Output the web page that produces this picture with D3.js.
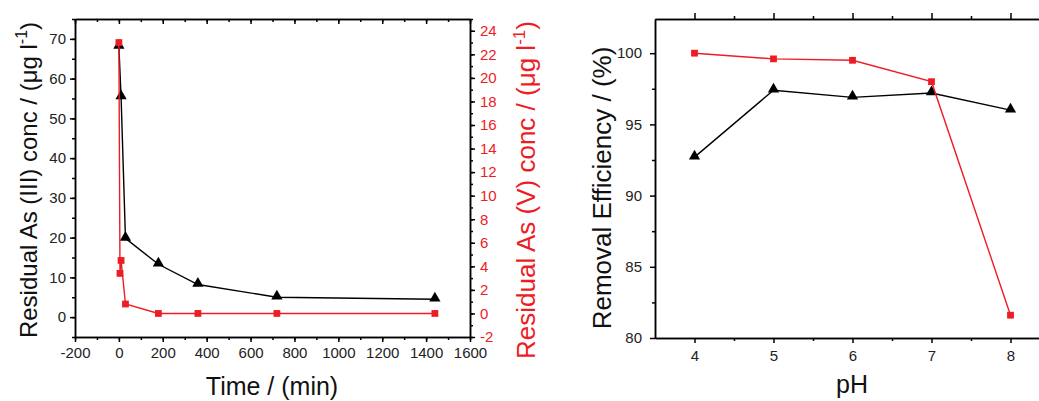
<!DOCTYPE html>
<html lang="en">
<head>
<meta charset="UTF-8">
<title>As removal</title>
<script src="https://d3js.org/d3.v7.min.js"></script>
<style>
  body { margin: 0; background: #fff; }
  text { font-family: "Liberation Sans", Arial, sans-serif; }
  .axis path, .axis line { stroke: #000; stroke-width: 1.5px; }
  .axis text { font-size: 15px; fill: #222; }
  .red text { fill: #ee1c24; }
</style>
</head>
<body>
<div id="chart"></div>
<script>

// time series (left panel)
var timeIII = [0, 10, 30, 180, 360, 720, 1440];
var asIII = [68.1, 55.4, 19.8, 13.3, 8.2, 5.0, 4.5];
var timeV = [0, 5, 10, 30, 180, 360, 720, 1440];
var asV = [23.0, 3.4, 4.5, 0.8, 0.0, 0.0, 0.0, 0.0];

// pH series (right panel)
var pH = [4, 5, 6, 7, 8];
var effIII = [92.7, 97.4, 96.9, 97.2, 96.0];
var effV = [100.0, 99.6, 99.5, 98.0, 81.6];

var red = "#ee1c24";
var plain = function(d) { return String(d); };

var svg = d3.select("#chart").append("svg")
    .attr("width", 1039)
    .attr("height", 401);

// ---------- left panel ----------
var x = d3.scaleLinear().domain([-200, 1600]).range([75, 470]);
var yL = d3.scaleLinear().domain([-5, 75]).range([337, 19]);
var yR = d3.scaleLinear().domain([-2, 25]).range([337, 19]);

// top (ticks inward)
svg.append("g").attr("class", "axis")
    .attr("transform", "translate(0,19)")
    .call(d3.axisTop(x).tickValues(d3.range(-200, 1601, 100)).tickSize(-3).tickFormat("").tickSizeOuter(0));
svg.append("g").attr("class", "axis")
    .attr("transform", "translate(0,19)")
    .call(d3.axisTop(x).tickValues(d3.range(-200, 1601, 200)).tickSize(-5).tickFormat("").tickSizeOuter(0));

svg.append("g").attr("class", "axis")
    .attr("transform", "translate(0,337)")
    .call(d3.axisBottom(x).tickValues(d3.range(-200, 1601, 100)).tickSize(3).tickFormat("").tickSizeOuter(0));
svg.append("g").attr("class", "axis")
    .attr("transform", "translate(0,337)")
    .call(d3.axisBottom(x).tickValues(d3.range(-200, 1601, 200)).tickSize(5).tickPadding(5).tickFormat(plain).tickSizeOuter(0));

svg.append("g").attr("class", "axis")
    .attr("transform", "translate(75,0)")
    .call(d3.axisLeft(yL).tickValues(d3.range(-5, 76, 5)).tickSize(3).tickFormat("").tickSizeOuter(0));
svg.append("g").attr("class", "axis")
    .attr("transform", "translate(75,0)")
    .call(d3.axisLeft(yL).tickValues(d3.range(0, 71, 10)).tickSize(5).tickPadding(4).tickFormat(plain).tickSizeOuter(0));

svg.append("g").attr("class", "axis")
    .attr("transform", "translate(470,0)")
    .call(d3.axisRight(yR).tickValues(d3.range(-2, 26, 1)).tickSize(3).tickFormat("").tickSizeOuter(0));
svg.append("g").attr("class", "axis red")
    .attr("transform", "translate(470,0)")
    .call(d3.axisRight(yR).tickValues(d3.range(-2, 25, 2)).tickSize(5).tickPadding(5).tickFormat(plain).tickSizeOuter(0));

var lineIII = d3.line().x(function(d, i) { return x(timeIII[i]); }).y(function(d) { return yL(d); });
var lineV = d3.line().x(function(d, i) { return x(timeV[i]); }).y(function(d) { return yR(d); });

var tri = d3.symbol().type(d3.symbolTriangle).size(55);
var sq = d3.symbol().type(d3.symbolSquare).size(46);

svg.append("path").datum(asIII)
    .attr("d", lineIII).attr("fill", "none").attr("stroke", "#000").attr("stroke-width", 1.4);
svg.selectAll(".triL").data(asIII).enter().append("path")
    .attr("d", tri)
    .attr("transform", function(d, i) { return "translate(" + x(timeIII[i]) + "," + (yL(d) - 1) + ")"; });

svg.append("path").datum(asV)
    .attr("d", lineV).attr("fill", "none").attr("stroke", red).attr("stroke-width", 1.4);
svg.selectAll(".sqL").data(asV).enter().append("path")
    .attr("d", sq).attr("fill", red)
    .attr("transform", function(d, i) { return "translate(" + x(timeV[i]) + "," + yR(d) + ")"; });

// titles
svg.append("text")
    .attr("x", 272).attr("y", 395)
    .attr("text-anchor", "middle").attr("font-size", 25).attr("fill", "#111")
    .text("Time / (min)");

var tl = svg.append("text")
    .attr("transform", "translate(37,180) rotate(-90)")
    .attr("text-anchor", "middle").attr("font-size", 24).attr("fill", "#111");
tl.append("tspan").text("Residual As (III) conc / (μg l");
tl.append("tspan").attr("dy", -10).attr("font-size", 16).text("-1");
tl.append("tspan").attr("dy", 10).text(")");

var tr = svg.append("text")
    .attr("transform", "translate(535,190) rotate(-90)")
    .attr("text-anchor", "middle").attr("font-size", 26).attr("fill", red);
tr.append("tspan").text("Residual As (V) conc / (μg l");
tr.append("tspan").attr("dy", -10).attr("font-size", 17).text("-1");
tr.append("tspan").attr("dy", 10).text(")");

// ---------- right panel ----------
var xp = d3.scaleLinear().domain([3.5, 8.5]).range([655, 1050]);
var yp = d3.scaleLinear().domain([80, 102.4]).range([338, 19]);

svg.append("g").attr("class", "axis")
    .attr("transform", "translate(0,19)")
    .call(d3.axisTop(xp).tickValues(d3.range(4.5, 8.6, 1)).tickSize(3).tickFormat("").tickSizeOuter(0));
svg.append("g").attr("class", "axis")
    .attr("transform", "translate(0,19)")
    .call(d3.axisTop(xp).tickValues(pH).tickSize(6).tickFormat("").tickSizeOuter(0));

svg.append("g").attr("class", "axis")
    .attr("transform", "translate(0,338)")
    .call(d3.axisBottom(xp).tickValues(d3.range(4.5, 8.6, 1)).tickSize(3).tickFormat("").tickSizeOuter(0));
svg.append("g").attr("class", "axis")
    .attr("transform", "translate(0,338)")
    .call(d3.axisBottom(xp).tickValues(pH).tickSize(5).tickPadding(7).tickFormat(plain).tickSizeOuter(0));

svg.append("g").attr("class", "axis")
    .attr("transform", "translate(655,0)")
    .call(d3.axisLeft(yp).tickValues(d3.range(82.5, 102, 5)).tickSize(3).tickFormat("").tickSizeOuter(0));
svg.append("g").attr("class", "axis")
    .attr("transform", "translate(655,0)")
    .call(d3.axisLeft(yp).tickValues(d3.range(80, 101, 5)).tickSize(5).tickPadding(8).tickFormat(plain).tickSizeOuter(0));

var lineP = d3.line().x(function(d, i) { return xp(pH[i]); }).y(function(d) { return yp(d); });

svg.append("path").datum(effIII)
    .attr("d", lineP).attr("fill", "none").attr("stroke", "#000").attr("stroke-width", 1.4);
svg.selectAll(".triR").data(effIII).enter().append("path")
    .attr("d", tri)
    .attr("transform", function(d, i) { return "translate(" + xp(pH[i]) + "," + (yp(d) - 1) + ")"; });

svg.append("path").datum(effV)
    .attr("d", lineP).attr("fill", "none").attr("stroke", red).attr("stroke-width", 1.4);
svg.selectAll(".sqR").data(effV).enter().append("path")
    .attr("d", sq).attr("fill", red)
    .attr("transform", function(d, i) { return "translate(" + xp(pH[i]) + "," + yp(d) + ")"; });

svg.append("text")
    .attr("x", 852).attr("y", 393)
    .attr("text-anchor", "middle").attr("font-size", 25).attr("fill", "#111")
    .text("pH");

svg.append("text")
    .attr("transform", "translate(611,188) rotate(-90)")
    .attr("text-anchor", "middle").attr("font-size", 26).attr("fill", "#111")
    .text("Removal Efficiency / (%)");

</script>
</body>
</html>
